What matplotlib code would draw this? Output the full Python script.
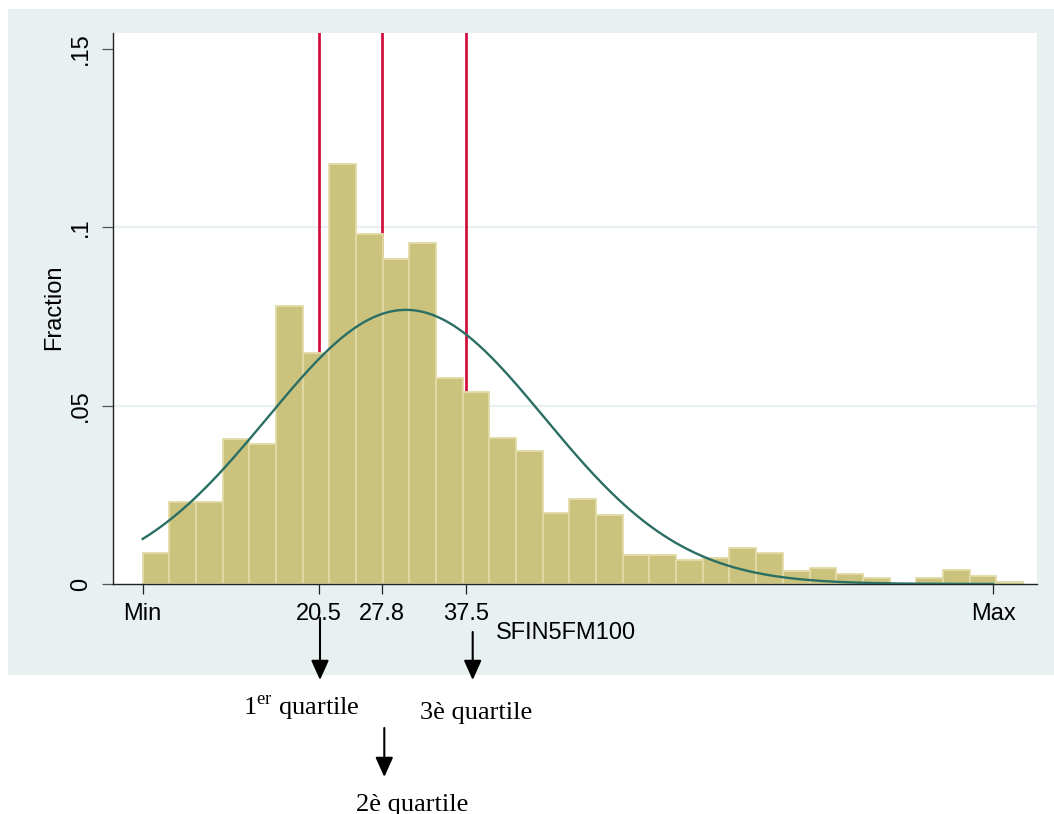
import numpy as np
import matplotlib
matplotlib.use('Agg')
import matplotlib.pyplot as plt
from matplotlib.patches import Rectangle

# histogram of SFIN5FM100 (fraction per bin)
bin_start = 0.0
bin_width = 3.096
fractions = [0.0088, 0.0230, 0.0230, 0.0406, 0.0391, 0.0780, 0.0648, 0.1176,
             0.0980, 0.0912, 0.0956, 0.0576, 0.0539, 0.0408, 0.0373, 0.0198,
             0.0237, 0.0193, 0.0081, 0.0081, 0.0067, 0.0074, 0.0100, 0.0088,
             0.0037, 0.0046, 0.0027, 0.0018, 0.0, 0.0018, 0.0038, 0.0023, 0.0007]

# quartiles and range
quartiles = [20.5, 27.8, 37.5]
x_min, x_max = 0.0, 98.7
xtick_values = [x_min, 20.5, 27.8, 37.5, x_max]
xtick_labels = ['Min', '20.5', '27.8', '37.5', 'Max']
ytick_values = [0, 0.05, 0.1, 0.15]
ytick_labels = ['0', '.05', '.1', '.15']

# normal overlay parameters (mean, sd)
norm_mean = 30.56
norm_sd = 16.08

W, H = 1054, 814
plt.rcParams['font.family'] = 'Liberation Sans'
plt.rcParams['mathtext.fontset'] = 'custom'
plt.rcParams['mathtext.rm'] = 'Liberation Serif'

fig = plt.figure(figsize=(W/100, H/100), dpi=100, facecolor='white')

# stata graph region
bg = '#e8f0f2'
fig.patches.append(Rectangle((8/W, 1-675/H), (W-8)/W, (675-9)/H,
                             transform=fig.transFigure, facecolor=bg,
                             edgecolor='none', zorder=-10))

left, right, top, bottom = 112.7, 1036.7, 33.3, 584
ax = fig.add_axes([left/W, 1-bottom/H, (right-left)/W, (bottom-top)/H])
ax.set_zorder(1)
ax.set_facecolor('white')
ax.set_xlim(-3.48, 103.77)
ax.set_ylim(0, 0.1543)

# gridlines
for yv in ytick_values[1:3]:
    ax.axhline(yv, color=bg, lw=1.6, zorder=0.5)

# quartile lines (behind bars)
for q in quartiles:
    ax.axvline(q, color='#d2103f', lw=2.0, zorder=1)

edges = bin_start + bin_width*np.arange(len(fractions))
ax.bar(edges, fractions, width=bin_width, align='edge', color='#cbc37d',
       edgecolor='#e2dba6', linewidth=1.3, zorder=2)

# normal density scaled to fraction
xs = np.linspace(x_min, x_max, 400)
ys = bin_width*np.exp(-0.5*((xs-norm_mean)/norm_sd)**2)/(norm_sd*np.sqrt(2*np.pi))
ax.plot(xs, ys, color='#2a6e64', lw=1.7, zorder=3)

for s in ['top', 'right']:
    ax.spines[s].set_visible(False)
ax.spines['left'].set_color('#222222')
ax.spines['bottom'].set_color('#222222')
ax.spines['left'].set_linewidth(1.0)
ax.spines['bottom'].set_linewidth(1.0)

ax.set_xticks(xtick_values)
ax.set_xticklabels(xtick_labels, fontsize=17)
ax.set_yticks(ytick_values)
ax.set_yticklabels(ytick_labels, fontsize=17, rotation=90, va='center')
ax.tick_params(axis='x', length=7, width=0.9, pad=6.5, color='#222222')
ax.tick_params(axis='y', length=8, width=0.9, pad=7, color='#555555')

fig.text(54/W, 1-307/H, 'Fraction', rotation=90, ha='center', va='center', fontsize=17)
fig.text(496/W, 1-633/H, 'SFIN5FM100', ha='left', va='center', fontsize=17)

# arrows and quartile captions
def arrow(x, y0, y1):
    ax.annotate('', xy=(x, H-y1), xytext=(x, H-y0), xycoords='figure pixels',
                textcoords='figure pixels', annotation_clip=False,
                arrowprops=dict(arrowstyle='-|>,head_length=0.6,head_width=0.27',
                                color='black', lw=1.5, mutation_scale=20,
                                shrinkA=0, shrinkB=0))

arrow(320, 618, 680)
arrow(472.7, 632, 680)
arrow(384.3, 728, 777)

serif = dict(family='Liberation Serif', fontsize=19, va='baseline', ha='center')
fig.text(301/W, 1-715/H, r'1$^{\mathrm{er}}$ quartile', **serif)
fig.text(476/W, 1-719/H, '3è quartile', **serif)
fig.text(412/W, 1-811/H, '2è quartile', **serif)

fig.savefig('out.png', dpi=100, facecolor='white')
